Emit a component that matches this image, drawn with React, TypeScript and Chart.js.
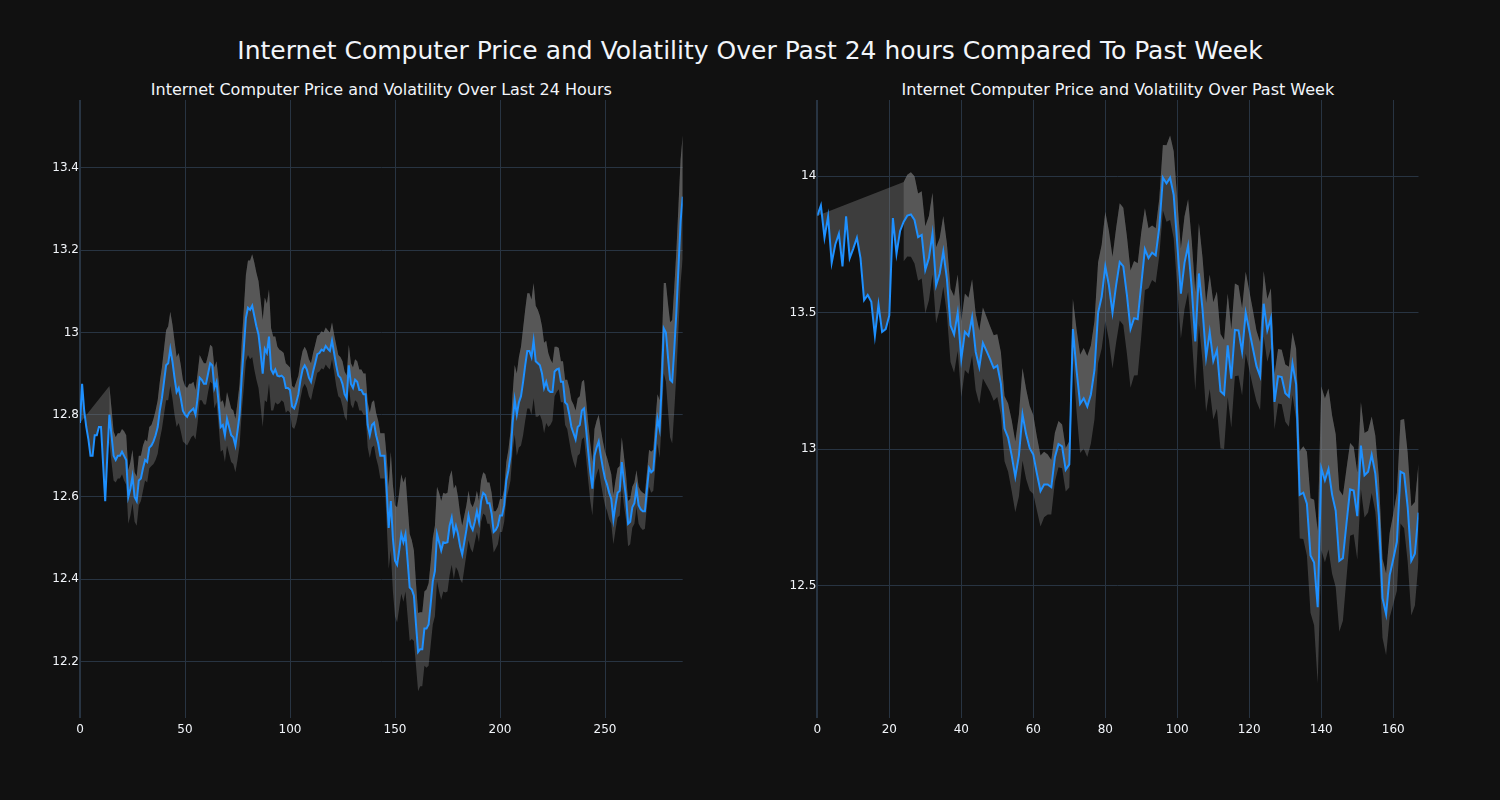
import React, { useEffect, useRef } from "react";
import { Chart, registerables } from "chart.js";

Chart.register(...registerables);

// ---------- data ----------
const mainTitle = "Internet Computer Price and Volatility Over Past 24 hours Compared To Past Week";
const dayTitle = "Internet Computer Price and Volatility Over Last 24 Hours";
const weekTitle = "Internet Computer Price and Volatility Over Past Week";

// 5-minute prices over the last 24 hours (x = 0..287)
const dayPrice: number[] = [
  12.78, 12.875, 12.81, 12.77, 12.74, 12.70, 12.70, 12.75, 12.75, 12.77,
  12.77, 12.68, 12.59, 12.70, 12.80, 12.75, 12.70, 12.69, 12.70, 12.70,
  12.71, 12.70, 12.69, 12.60, 12.62, 12.65, 12.60, 12.59, 12.64, 12.645,
  12.67, 12.69, 12.685, 12.72, 12.725, 12.735, 12.75, 12.77, 12.81, 12.84,
  12.88, 12.92, 12.925, 12.96, 12.93, 12.89, 12.855, 12.865, 12.84, 12.81,
  12.80, 12.795, 12.805, 12.81, 12.815, 12.80, 12.84, 12.89, 12.885, 12.875,
  12.875, 12.90, 12.925, 12.92, 12.865, 12.88, 12.83, 12.77, 12.775, 12.75,
  12.79, 12.77, 12.75, 12.745, 12.725, 12.76, 12.80, 12.89, 12.96, 13.035,
  13.06, 13.055, 13.065, 13.04, 13.015, 12.995, 12.95, 12.90, 12.96, 12.95,
  12.99, 12.91, 12.90, 12.91, 12.895, 12.893, 12.895, 12.89, 12.865, 12.865,
  12.86, 12.82, 12.815, 12.83, 12.85, 12.885, 12.91, 12.92, 12.91, 12.89,
  12.88, 12.905, 12.925, 12.947, 12.95, 12.958, 12.955, 12.967, 12.96, 12.955,
  12.98, 12.95, 12.92, 12.895, 12.89, 12.875, 12.85, 12.84, 12.92, 12.875,
  12.865, 12.885, 12.88, 12.86, 12.86, 12.85, 12.85, 12.775, 12.75, 12.775,
  12.78, 12.75, 12.73, 12.70, 12.70, 12.70, 12.62, 12.525, 12.59, 12.50,
  12.445, 12.435, 12.47, 12.51, 12.49, 12.51, 12.445, 12.38, 12.375, 12.36,
  12.29, 12.223, 12.23, 12.23, 12.28, 12.28, 12.29, 12.34, 12.395, 12.42,
  12.51, 12.49, 12.47, 12.49, 12.488, 12.49, 12.53, 12.55, 12.51, 12.53,
  12.51, 12.48, 12.46, 12.49, 12.52, 12.555, 12.53, 12.52, 12.54, 12.565,
  12.54, 12.59, 12.61, 12.605, 12.585, 12.585, 12.56, 12.515, 12.52, 12.53,
  12.555, 12.555, 12.58, 12.64, 12.665, 12.70, 12.78, 12.836, 12.80, 12.83,
  12.845, 12.88, 12.92, 12.955, 12.955, 12.94, 12.98, 12.93, 12.925, 12.92,
  12.90, 12.865, 12.88, 12.86, 12.855, 12.855, 12.905, 12.91, 12.912, 12.88,
  12.88, 12.83, 12.825, 12.80, 12.77, 12.755, 12.74, 12.77, 12.775, 12.81,
  12.815, 12.765, 12.71, 12.66, 12.62, 12.70, 12.72, 12.735, 12.70, 12.67,
  12.645, 12.63, 12.61, 12.595, 12.545, 12.58, 12.61, 12.615, 12.685, 12.64,
  12.60, 12.535, 12.54, 12.575, 12.585, 12.62, 12.58, 12.57, 12.565, 12.565,
  12.62, 12.67, 12.66, 12.665, 12.73, 12.79, 12.765, 12.87, 13.01, 13.00,
  12.94, 12.885, 12.88, 12.96, 13.05, 13.16, 13.27, 13.33,
];

// rolling volatility (band half-width) for the last 24 hours
const dayVol: (number | null)[] = [
  null, null, null, null, null, null, null, null, null, null,
  null, null, null, null, 0.07, 0.065, 0.06, 0.055, 0.055, 0.055,
  0.055, 0.06, 0.06, 0.065, 0.065, 0.065, 0.06, 0.06, 0.06, 0.055,
  0.055, 0.05, 0.05, 0.05, 0.05, 0.055, 0.06, 0.065, 0.07, 0.075,
  0.08, 0.085, 0.09, 0.09, 0.09, 0.09, 0.085, 0.085, 0.08, 0.075,
  0.07, 0.07, 0.07, 0.065, 0.065, 0.06, 0.06, 0.055, 0.05, 0.05,
  0.05, 0.045, 0.045, 0.045, 0.05, 0.05, 0.055, 0.06, 0.06, 0.065,
  0.065, 0.065, 0.065, 0.065, 0.065, 0.07, 0.075, 0.085, 0.095, 0.105,
  0.115, 0.12, 0.125, 0.13, 0.13, 0.13, 0.13, 0.13, 0.125, 0.12,
  0.115, 0.1, 0.09, 0.08, 0.07, 0.065, 0.06, 0.06, 0.06, 0.055,
  0.055, 0.05, 0.05, 0.05, 0.045, 0.045, 0.045, 0.045, 0.045, 0.045,
  0.045, 0.045, 0.045, 0.045, 0.045, 0.045, 0.045, 0.045, 0.045, 0.045,
  0.045, 0.045, 0.05, 0.05, 0.05, 0.055, 0.055, 0.055, 0.05, 0.05,
  0.05, 0.05, 0.05, 0.05, 0.05, 0.05, 0.05, 0.055, 0.055, 0.055,
  0.055, 0.055, 0.055, 0.055, 0.055, 0.055, 0.08, 0.1, 0.12, 0.13,
  0.135, 0.14, 0.14, 0.145, 0.145, 0.14, 0.135, 0.13, 0.12, 0.11,
  0.1, 0.095, 0.09, 0.09, 0.09, 0.095, 0.1, 0.1, 0.105, 0.11,
  0.115, 0.12, 0.12, 0.12, 0.12, 0.12, 0.12, 0.115, 0.11, 0.1,
  0.09, 0.08, 0.07, 0.065, 0.06, 0.06, 0.055, 0.055, 0.05, 0.05,
  0.05, 0.05, 0.05, 0.05, 0.05, 0.05, 0.05, 0.05, 0.045, 0.045,
  0.04, 0.04, 0.04, 0.045, 0.05, 0.06, 0.07, 0.085, 0.1, 0.11,
  0.12, 0.13, 0.135, 0.14, 0.14, 0.14, 0.14, 0.135, 0.13, 0.12,
  0.115, 0.11, 0.1, 0.09, 0.08, 0.07, 0.06, 0.055, 0.05, 0.05,
  0.05, 0.055, 0.06, 0.065, 0.065, 0.07, 0.07, 0.07, 0.07, 0.07,
  0.07, 0.07, 0.07, 0.07, 0.065, 0.065, 0.065, 0.065, 0.065, 0.065,
  0.065, 0.065, 0.065, 0.06, 0.06, 0.06, 0.06, 0.06, 0.06, 0.06,
  0.055, 0.055, 0.055, 0.05, 0.05, 0.045, 0.045, 0.045, 0.045, 0.042,
  0.042, 0.045, 0.05, 0.05, 0.055, 0.06, 0.07, 0.09, 0.11, 0.12,
  0.13, 0.14, 0.15, 0.15, 0.15, 0.15, 0.15, 0.15,
];

// hourly prices over the past week (x = 0..167)
const weekPrice: number[] = [
  13.856, 13.893, 13.775, 13.853, 13.683, 13.75, 13.79, 13.67, 13.853, 13.70,
  13.735, 13.775, 13.70, 13.546, 13.565, 13.54, 13.415, 13.53, 13.43, 13.44,
  13.49, 13.847, 13.716, 13.80, 13.834, 13.856, 13.86, 13.84, 13.777, 13.785,
  13.657, 13.70, 13.79, 13.60, 13.644, 13.725, 13.624, 13.454, 13.42, 13.50,
  13.33, 13.43, 13.415, 13.483, 13.356, 13.30, 13.389, 13.36, 13.33, 13.297,
  13.306, 13.24, 13.075, 13.042, 12.976, 12.898, 12.976, 13.127, 13.055, 13.003,
  12.98, 12.91, 12.846, 12.87, 12.87, 12.86, 12.97, 13.018, 13.01, 12.924,
  12.944, 13.44, 13.29, 13.166, 13.186, 13.156, 13.20, 13.29, 13.50, 13.559,
  13.67, 13.60, 13.50, 13.60, 13.686, 13.67, 13.565, 13.44, 13.48, 13.476,
  13.605, 13.733, 13.70, 13.72, 13.71, 13.814, 13.995, 13.974, 13.995, 13.932,
  13.75, 13.57, 13.683, 13.746, 13.59, 13.395, 13.644, 13.513, 13.336, 13.43,
  13.323, 13.363, 13.212, 13.20, 13.38, 13.258, 13.437, 13.435, 13.356, 13.50,
  13.435, 13.369, 13.304, 13.267, 13.533, 13.435, 13.48, 13.173, 13.267, 13.264,
  13.205, 13.192, 13.313, 13.238, 12.832, 12.84, 12.80, 12.61, 12.584, 12.42,
  12.93, 12.885, 12.927, 12.833, 12.774, 12.59, 12.60, 12.728, 12.852, 12.848,
  12.754, 13.013, 12.904, 12.917, 12.979, 12.91, 12.754, 12.453, 12.394, 12.538,
  12.597, 12.66, 12.917, 12.91, 12.786, 12.59, 12.616, 12.767,
];

// rolling volatility (band half-width) for the past week
const weekVol: (number | null)[] = [
  null, null, null, null, null, null, null, null, null, null,
  null, null, null, null, null, null, null, null, null, null,
  null, null, null, null, 0.145, 0.15, 0.155, 0.16, 0.16, 0.16,
  0.16, 0.155, 0.15, 0.14, 0.13, 0.13, 0.13, 0.135, 0.14, 0.14,
  0.14, 0.14, 0.14, 0.14, 0.14, 0.135, 0.13, 0.125, 0.12, 0.12,
  0.115, 0.115, 0.12, 0.125, 0.13, 0.13, 0.15, 0.17, 0.165, 0.155,
  0.145, 0.135, 0.13, 0.12, 0.11, 0.1, 0.09, 0.085, 0.08, 0.08,
  0.085, 0.11, 0.15, 0.18, 0.185, 0.185, 0.18, 0.18, 0.185, 0.19,
  0.2, 0.2, 0.205, 0.21, 0.215, 0.215, 0.215, 0.215, 0.21, 0.205,
  0.19, 0.15, 0.11, 0.1, 0.1, 0.105, 0.12, 0.14, 0.155, 0.16,
  0.165, 0.165, 0.17, 0.17, 0.175, 0.18, 0.185, 0.19, 0.2, 0.21,
  0.215, 0.215, 0.21, 0.2, 0.19, 0.18, 0.17, 0.165, 0.16, 0.15,
  0.145, 0.14, 0.13, 0.125, 0.12, 0.115, 0.11, 0.1, 0.1, 0.1,
  0.105, 0.11, 0.115, 0.13, 0.16, 0.17, 0.19, 0.21, 0.23, 0.28,
  0.3, 0.3, 0.295, 0.29, 0.28, 0.26, 0.23, 0.2, 0.17, 0.16,
  0.16, 0.16, 0.155, 0.15, 0.14, 0.14, 0.14, 0.145, 0.15, 0.155,
  0.165, 0.18, 0.19, 0.2, 0.2, 0.2, 0.19, 0.18,
];

// ---------- styling ----------
const BG = "#111111";
const GRID = "#283442";
const TEXT = "#f2f5fa";
const LINE = "#1e90ff";
const BAND = "rgba(128,128,128,0.4)";
const FONT = "'DejaVu Sans', sans-serif";

function makeBandPlugin(price: number[], vol: (number | null)[]) {
  return {
    id: "volBand",
    beforeDatasetsDraw(chart: any) {
      const xs = chart.scales.x;
      const ys = chart.scales.y;
      const ctx = chart.ctx as CanvasRenderingContext2D;
      const a = chart.chartArea;
      const idx: number[] = [];
      vol.forEach((v, i) => { if (v != null) idx.push(i); });
      if (!idx.length) return;
      const up = (i: number) => price[i] + (vol[i] as number);
      const lo = (i: number) => price[i] - (vol[i] as number);
      ctx.save();
      ctx.beginPath();
      ctx.rect(a.left, a.top, a.right - a.left, a.bottom - a.top);
      ctx.clip();
      ctx.fillStyle = BAND;
      // upper band filled down to the price line
      ctx.beginPath();
      idx.forEach((i, k) => {
        const px = xs.getPixelForValue(i), py = ys.getPixelForValue(up(i));
        if (k === 0) ctx.moveTo(px, py); else ctx.lineTo(px, py);
      });
      for (let i = price.length - 1; i >= 0; i--) {
        ctx.lineTo(xs.getPixelForValue(i), ys.getPixelForValue(price[i]));
      }
      ctx.closePath();
      ctx.fill();
      // lower band filled up to the upper band
      ctx.beginPath();
      idx.forEach((i, k) => {
        const px = xs.getPixelForValue(i), py = ys.getPixelForValue(lo(i));
        if (k === 0) ctx.moveTo(px, py); else ctx.lineTo(px, py);
      });
      for (let k = idx.length - 1; k >= 0; k--) {
        const i = idx[k];
        ctx.lineTo(xs.getPixelForValue(i), ys.getPixelForValue(up(i)));
      }
      ctx.closePath();
      ctx.fill();
      ctx.restore();
    },
  };
}

const fmt = (v: any) => String(parseFloat(Number(v).toFixed(3)));

interface PanelProps {
  price: number[];
  vol: (number | null)[];
  xStep: number;
  yMin: number;
  yMax: number;
  yStep: number;
  offset: number;
  areaLeft: number;
  areaRight: number;
}

function Panel({ price, vol, xStep, yMin, yMax, yStep, offset, areaLeft, areaRight }: PanelProps) {
  const ref = useRef<HTMLCanvasElement>(null);
  useEffect(() => {
    const Y_W = 50;
    const X_H = 30;
    const chart = new Chart(ref.current as HTMLCanvasElement, {
      type: "line",
      data: {
        datasets: [
          {
            data: price.map((v, i) => ({ x: i, y: v })),
            borderColor: LINE,
            borderWidth: 2,
            pointRadius: 0,
            tension: 0,
            fill: false,
          },
        ],
      },
      options: {
        animation: false,
        responsive: false,
        events: [],
        layout: {
          padding: {
            left: areaLeft - offset - Y_W,
            right: offset + 750 - areaRight,
            top: 100,
            bottom: 800 - 718 - X_H,
          },
        },
        plugins: { legend: { display: false }, tooltip: { enabled: false }, title: { display: false } },
        scales: {
          x: {
            type: "linear",
            min: 0,
            max: price.length - 1,
            afterFit: (s: any) => { s.height = X_H; },
            border: { display: false },
            grid: {
              color: GRID,
              lineWidth: (c: any) => (c.tick && c.tick.value === 0 ? 2 : 1),
              drawTicks: false,
            },
            ticks: {
              stepSize: xStep,
              includeBounds: false,
              autoSkip: false,
              maxRotation: 0,
              padding: 5,
              color: TEXT,
              font: { family: FONT, size: 12 },
              callback: fmt,
            },
          },
          y: {
            type: "linear",
            min: yMin,
            max: yMax,
            afterFit: (s: any) => { s.width = Y_W; },
            border: { display: false },
            grid: { color: GRID, lineWidth: 1, drawTicks: false },
            ticks: {
              stepSize: yStep,
              includeBounds: false,
              autoSkip: false,
              padding: 1,
              color: TEXT,
              font: { family: FONT, size: 12 },
              callback: fmt,
            },
          },
        },
      },
      plugins: [makeBandPlugin(price, vol)],
    } as any);
    return () => chart.destroy();
  }, []);
  return (
    <canvas
      ref={ref}
      width={750}
      height={800}
      style={{ position: "absolute", left: offset, top: 0, width: 750, height: 800 }}
    />
  );
}

export default function App() {
  useEffect(() => {
    document.body.style.margin = "0";
    document.body.style.background = BG;
  }, []);
  const sub = (text: string, left: number, right: number) => (
    <div
      style={{
        position: "absolute",
        left,
        width: right - left,
        top: 80,
        height: 20,
        lineHeight: "20px",
        textAlign: "center",
        color: TEXT,
        fontFamily: FONT,
        fontSize: 16,
        whiteSpace: "nowrap",
      }}
    >
      {text}
    </div>
  );
  return (
    <div style={{ position: "relative", width: 1500, height: 800, background: BG, overflow: "hidden" }}>
      <div
        style={{
          position: "absolute",
          left: 0,
          width: 1500,
          top: 36,
          height: 30,
          lineHeight: "30px",
          textAlign: "center",
          color: TEXT,
          fontFamily: FONT,
          fontSize: 25,
          whiteSpace: "nowrap",
        }}
      >
        {mainTitle}
      </div>
      {sub(dayTitle, 80, 682.7)}
      {sub(weekTitle, 817.3, 1418.5)}
      <Panel price={dayPrice} vol={dayVol} xStep={50} yMin={12.0627} yMax={13.565} yStep={0.2} offset={0} areaLeft={80} areaRight={682.7} />
      <Panel price={weekPrice} vol={weekVol} xStep={20} yMin={12.0138} yMax={14.28} yStep={0.5} offset={750} areaLeft={817.3} areaRight={1418.5} />
    </div>
  );
}
